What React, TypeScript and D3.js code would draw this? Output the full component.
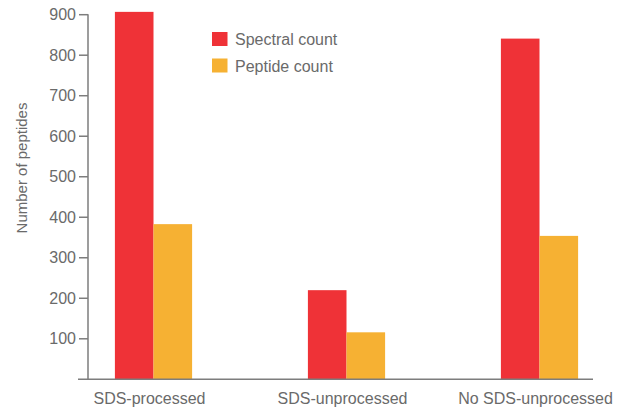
import React from "react";
import * as d3 from "d3";

const categories = ["SDS-processed", "SDS-unprocessed", "No SDS-unprocessed"];
const seriesNames = ["Spectral count", "Peptide count"];
const spectralCount = [907, 220, 841];
const peptideCount = [383, 116, 354];
const yTicks = [100, 200, 300, 400, 500, 600, 700, 800, 900];
const colors = ["#EF3237", "#F6B133"];

const W = 628;
const H = 409;
const FONT = "'Liberation Sans', Arial, Helvetica, sans-serif";
const TEXT = "#6a6a6a";
const AXIS = "#7d7d7d";

export default function App() {
  const axisX = 88;
  const y = d3.scaleLinear().domain([0, 900]).range([379.3, 14.7]);
  const x = d3
    .scaleBand<string>()
    .domain(categories)
    .range([57, 636])
    .paddingInner(0.6)
    .paddingOuter(0.3);
  const xs = d3.scaleBand<string>().domain(seriesNames).range([0, x.bandwidth()]);
  const values = [spectralCount, peptideCount];

  return (
    <svg
      width={W}
      height={H}
      style={{ position: "absolute", left: 0, top: 0, display: "block", background: "#fff" }}
      fontFamily={FONT}
    >
      {/* bars */}
      {categories.map((c, i) => (
        <g key={c} transform={`translate(${x(c)},0)`}>
          {seriesNames.map((s, j) => (
            <rect
              key={s}
              x={xs(s)}
              y={y(values[j][i])}
              width={xs.bandwidth()}
              height={y(0) - y(values[j][i])}
              fill={colors[j]}
            />
          ))}
        </g>
      ))}

      {/* y axis */}
      <line x1={axisX} x2={axisX} y1={y(900) - 0.5} y2={y(0)} stroke={AXIS} strokeWidth={1.5} />
      {yTicks.map((t) => (
        <g key={t} transform={`translate(0,${y(t)})`}>
          <line x1={axisX - 9} x2={axisX} stroke={AXIS} strokeWidth={1.5} />
          <text x={axisX - 12} dy="0.35em" textAnchor="end" fontSize={16} fill={TEXT}>
            {t}
          </text>
        </g>
      ))}
      <text
        transform={`translate(22,${168}) rotate(-90)`}
        textAnchor="middle"
        dy="0.35em"
        fontSize={15}
        fill={TEXT}
      >
        Number of peptides
      </text>

      {/* x axis */}
      <line x1={78} x2={593} y1={y(0)} y2={y(0)} stroke={AXIS} strokeWidth={1.5} />
      {categories.map((c) => (
        <text
          key={c}
          x={(x(c) ?? 0) + x.bandwidth() / 2 - 4}
          y={398}
          dy="0.35em"
          textAnchor="middle"
          fontSize={16}
          fill={TEXT}
        >
          {c}
        </text>
      ))}

      {/* legend */}
      {seriesNames.map((s, j) => (
        <g key={s} transform={`translate(212,${32 + j * 26.5})`}>
          <rect width={15.5} height={14} fill={colors[j]} />
          <text x={23} y={7.5} dy="0.35em" fontSize={16} fill={TEXT}>
            {s}
          </text>
        </g>
      ))}
    </svg>
  );
}
